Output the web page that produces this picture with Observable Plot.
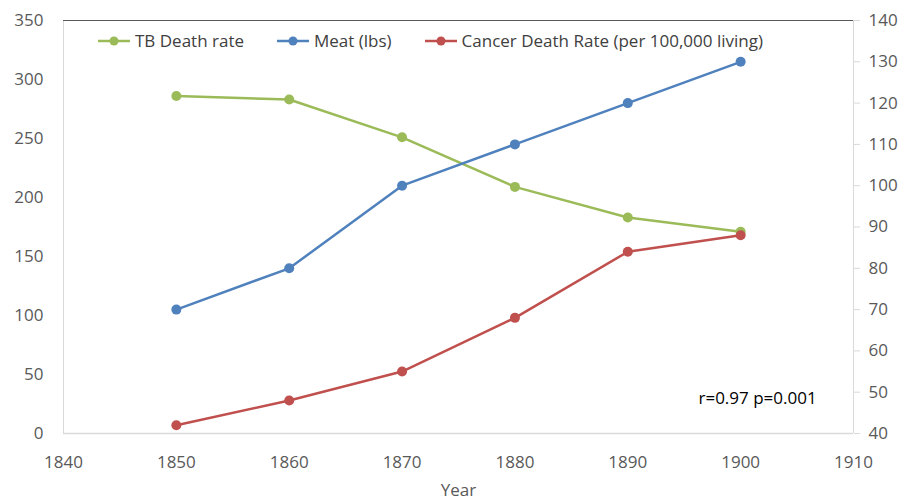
<!DOCTYPE html>
<html>
<head>
<meta charset="utf-8">
<script src="https://cdn.jsdelivr.net/npm/d3@7"></script>
<script src="https://cdn.jsdelivr.net/npm/@observablehq/plot@0.6"></script>
<style>
  html, body { margin: 0; padding: 0; background: #fff; }
  #wrap { position: relative; width: 906px; height: 500px; font-family: "Liberation Sans Narrow", "Open Sans", sans-serif; }
  #legend { position: absolute; top: 29px; left: 97px; display: flex; font-size: 17px; color: #404040; }
  .item { display: flex; align-items: center; margin-right: 32px; }
  .item svg { margin-right: 4px; }
</style>
</head>
<body>
<div id="wrap"><div id="legend"></div></div>
<script>
const years = [1850, 1860, 1870, 1880, 1890, 1900];
const tbDeath = [286, 283, 251, 209, 183, 171];      // left axis
const meatLbs = [70, 80, 100, 110, 120, 130];        // right axis
const cancerDeath = [42, 48, 55, 68, 84, 88];        // right axis
const leftTicks = [0, 50, 100, 150, 200, 250, 300, 350];
const rightTicks = [40, 50, 60, 70, 80, 90, 100, 110, 120, 130, 140];
const xTicks = [1840, 1850, 1860, 1870, 1880, 1890, 1900, 1910];
const seriesNames = ["TB Death rate", "Meat (lbs)", "Cancer Death Rate (per 100,000 living)"];
const seriesColors = ["#9BBB59", "#4F81BD", "#C0504D"];
const annotation = [{x: 1901.5, y: 30, text: "r=0.97 p=0.001"}];

// right axis [40,140] mapped onto left axis [0,350]
const toLeft = v => (v - 40) * 3.5;
const fromLeft = d => Math.round(d / 3.5 + 40);

const data = [];
years.forEach((yr, i) => {
  data.push({year: yr, series: seriesNames[0], y: tbDeath[i]});
  data.push({year: yr, series: seriesNames[1], y: toLeft(meatLbs[i])});
  data.push({year: yr, series: seriesNames[2], y: toLeft(cancerDeath[i])});
});

const font = "'Liberation Sans Narrow', 'Open Sans', sans-serif";
const chart = Plot.plot({
  width: 906,
  height: 500,
  marginLeft: 63,
  marginRight: 53,
  marginTop: 20,
  marginBottom: 67,
  style: {fontFamily: font, fontSize: "17px", color: "#595959", background: "#fff"},
  x: {domain: [1840, 1910]},
  y: {domain: [0, 350]},
  color: {domain: seriesNames, range: seriesColors},
  marks: [
    Plot.ruleX([1840], {stroke: "#d9d9d9", strokeWidth: 1}),
    Plot.ruleX([1910], {stroke: "#d9d9d9", strokeWidth: 1}),
    Plot.ruleY([0], {stroke: "#d9d9d9", strokeWidth: 1.5}),
    Plot.ruleY([350], {stroke: "#595959", strokeWidth: 1}),
    Plot.axisY({ticks: leftTicks, tickSize: 0, tickPadding: 20, label: null, fill: "#595959"}),
    Plot.axisY({anchor: "right", ticks: rightTicks.map(toLeft), tickFormat: fromLeft, tickSize: 6, tickPadding: 9, stroke: "#d9d9d9", label: null, fill: "#595959"}),
    Plot.axisX({ticks: xTicks, tickSize: 0, tickPadding: 22, tickFormat: d => String(d), label: "Year", labelAnchor: "center", labelArrow: "none", labelOffset: 62, fill: "#595959"}),
    Plot.line(data, {x: "year", y: "y", stroke: "series", z: "series", strokeWidth: 2.5}),
    Plot.dot(data, {x: "year", y: "y", fill: "series", r: 5}),
    Plot.text(annotation, {x: "x", y: "y", text: "text", fill: "#000", fontSize: 17})
  ]
});
document.getElementById("wrap").prepend(chart);

const legend = document.getElementById("legend");
seriesNames.forEach((name, i) => {
  const item = document.createElement("div");
  item.className = "item";
  item.innerHTML = `<svg width="34" height="12"><line x1="1" y1="6" x2="33" y2="6" stroke="${seriesColors[i]}" stroke-width="2.5"/><circle cx="17" cy="6" r="4.5" fill="${seriesColors[i]}"/></svg><span>${name}</span>`;
  legend.appendChild(item);
});
</script>
</body>
</html>
